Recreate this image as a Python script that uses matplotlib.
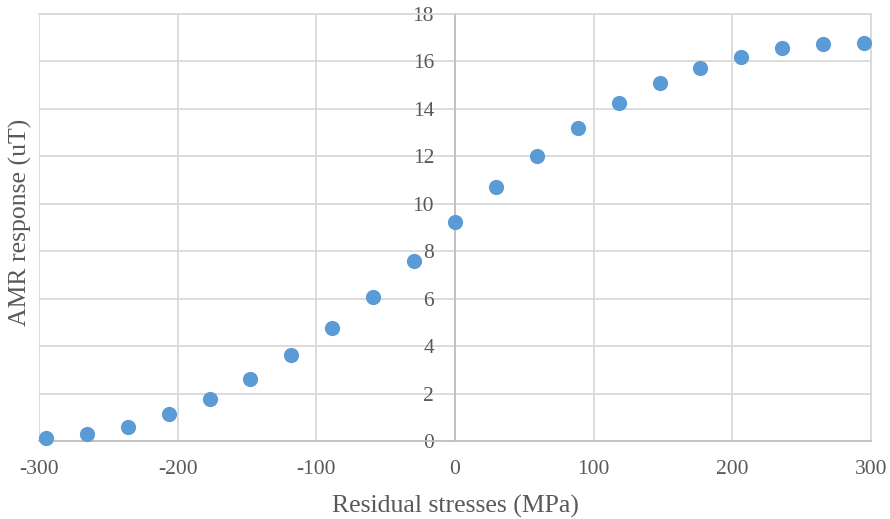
import matplotlib.pyplot as plt

# Данные
stress = [-295, -265.5, -236, -206.5, -177, -147.5, -118, -88.5, -59, -29.5, 0,
          29.5, 59, 88.5, 118, 147.5, 177, 206.5, 236, 265.5, 295]
amr = [0.14, 0.3, 0.6, 1.14, 1.77, 2.6, 3.63, 4.76, 6.07, 7.59, 9.23,
       10.71, 12.03, 13.21, 14.25, 15.09, 15.72, 16.19, 16.57, 16.72, 16.79]
x_ticks = [-300, -200, -100, 0, 100, 200, 300]
y_ticks = [0, 2, 4, 6, 8, 10, 12, 14, 16, 18]

plt.rcParams['font.family'] = ['Liberation Serif', 'DejaVu Serif']
plt.rcParams['axes.unicode_minus'] = False
text_color = '#595959'
grid_color = '#D9D9D9'

fig = plt.figure(figsize=(8.9, 5.19), dpi=100)
ax = fig.add_axes([39 / 890, 78 / 519, 832 / 890, 427 / 519])

ax.scatter(stress, amr, s=120, color='#5B9BD5', zorder=3, clip_on=False, linewidths=0)

ax.set_xlim(-300, 300)
ax.set_ylim(0, 18)
ax.set_xticks(x_ticks)
ax.set_yticks(y_ticks)
ax.grid(True, color=grid_color, linewidth=1.3, zorder=0)
ax.set_axisbelow(True)

# ось Y проходит через ноль, как в Excel
ax.spines['left'].set_position(('data', 0))
ax.spines['left'].set_color('#BFBFBF')
ax.spines['left'].set_linewidth(1.3)
ax.spines['bottom'].set_color('#BFBFBF')
ax.spines['bottom'].set_linewidth(1.3)
for side in ['top', 'right']:
    ax.spines[side].set_color(grid_color)
    ax.spines[side].set_linewidth(1.3)

ax.tick_params(axis='both', length=0, labelsize=15.5, colors=text_color)
ax.tick_params(axis='y', pad=15)
ax.tick_params(axis='x', pad=14)

fig.text(20 / 890, 1 - 222 / 519, 'AMR response (uT)', rotation=90,
         ha='center', va='center', fontsize=18.5, color=text_color)
fig.text(455 / 890, 1 - 506 / 519, 'Residual stresses (MPa)',
         ha='center', va='center', fontsize=18.5, color=text_color)

fig.savefig('out.png', dpi=100)
plt.close(fig)
